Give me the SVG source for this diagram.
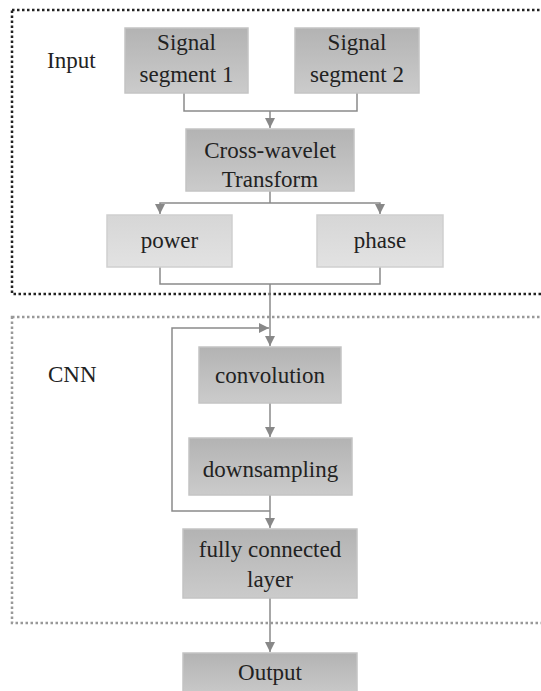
<svg xmlns="http://www.w3.org/2000/svg" width="541" height="691" viewBox="0 0 541 691">
<defs>
<linearGradient id="gd" x1="0" y1="0" x2="0" y2="1">
<stop offset="0" stop-color="#b3b3b3"/>
<stop offset="1" stop-color="#cbcbcb"/>
</linearGradient>
<linearGradient id="gl" x1="0" y1="0" x2="0" y2="1">
<stop offset="0" stop-color="#d6d6d6"/>
<stop offset="1" stop-color="#e2e2e2"/>
</linearGradient>
<marker id="ar" viewBox="0 0 10 10" refX="10" refY="5" markerWidth="10" markerHeight="10" markerUnits="userSpaceOnUse" orient="auto">
<path d="M0,0 L10,5 L0,10 z" fill="#888"/>
</marker>
</defs>
<style>
.t{font-size:23px;fill:#222;text-anchor:middle}
.lbl{text-anchor:start}
.dark{fill:url(#gd);stroke:#c4c4c4;stroke-width:1.5}
.light{fill:url(#gl);stroke:#cfcfcf;stroke-width:1.5}
.c{fill:none;stroke:#8a8a8a;stroke-width:1.5}
</style>
<rect width="541" height="691" fill="#fff"/>
<g font-family="'Liberation Serif', 'DejaVu Serif', serif">
<g id="input-frame">
<rect x="12" y="10" width="540" height="284" fill="none" stroke="#222" stroke-width="2.5" stroke-dasharray="2.5,2.5"/>
<text class="t lbl" x="47" y="68">Input</text>
</g>
<g id="cnn-frame">
<rect x="12" y="317" width="540" height="306" fill="none" stroke="#999" stroke-width="2.5" stroke-dasharray="2.5,2.5"/>
<text class="t lbl" x="48" y="382">CNN</text>
</g>
<g id="connectors">
<polyline class="c" points="184,93 184,111 357,111 357,93"/>
<line class="c" x1="270" y1="111" x2="270" y2="128" marker-end="url(#ar)"/>
<line class="c" x1="270" y1="191" x2="270" y2="203"/>
<polyline class="c" points="270,203 160,203 160,214" marker-end="url(#ar)"/>
<polyline class="c" points="270,203 380,203 380,214" marker-end="url(#ar)"/>
<polyline class="c" points="160,267 160,284 380,284 380,267"/>
<line class="c" x1="270" y1="284" x2="270" y2="346" marker-end="url(#ar)"/>
<polyline class="c" points="270,511 172,511 172,328 269,328" marker-end="url(#ar)"/>
<line class="c" x1="270" y1="403" x2="270" y2="437" marker-end="url(#ar)"/>
<line class="c" x1="270" y1="495" x2="270" y2="528" marker-end="url(#ar)"/>
<line class="c" x1="270" y1="598" x2="270" y2="652" marker-end="url(#ar)"/>
</g>
<g id="signal1"><rect class="dark" x="125" y="28" width="123" height="65"/><text class="t" x="186.5" y="50">Signal</text><text class="t" x="186.5" y="82">segment 1</text></g>
<g id="signal2"><rect class="dark" x="295" y="28" width="124" height="65"/><text class="t" x="357" y="50">Signal</text><text class="t" x="357" y="82">segment 2</text></g>
<g id="xwt"><rect class="dark" x="186" y="129" width="168" height="62"/><text class="t" x="270" y="158">Cross-wavelet</text><text class="t" x="270" y="187">Transform</text></g>
<g id="power"><rect class="light" x="107" y="215" width="125" height="52"/><text class="t" x="169.5" y="248">power</text></g>
<g id="phase"><rect class="light" x="317" y="215" width="126" height="52"/><text class="t" x="380" y="248">phase</text></g>
<g id="convolution"><rect class="dark" x="199" y="347" width="142" height="56"/><text class="t" x="270" y="383">convolution</text></g>
<g id="downsampling"><rect class="dark" x="189" y="438" width="163" height="57"/><text class="t" x="270.5" y="477">downsampling</text></g>
<g id="fc"><rect class="dark" x="183" y="529" width="174" height="69"/><text class="t" x="270" y="557">fully connected</text><text class="t" x="270" y="587">layer</text></g>
<g id="output"><rect class="dark" x="183" y="653" width="174" height="45"/><text class="t" x="270" y="680">Output</text></g>
</g>
</svg>
